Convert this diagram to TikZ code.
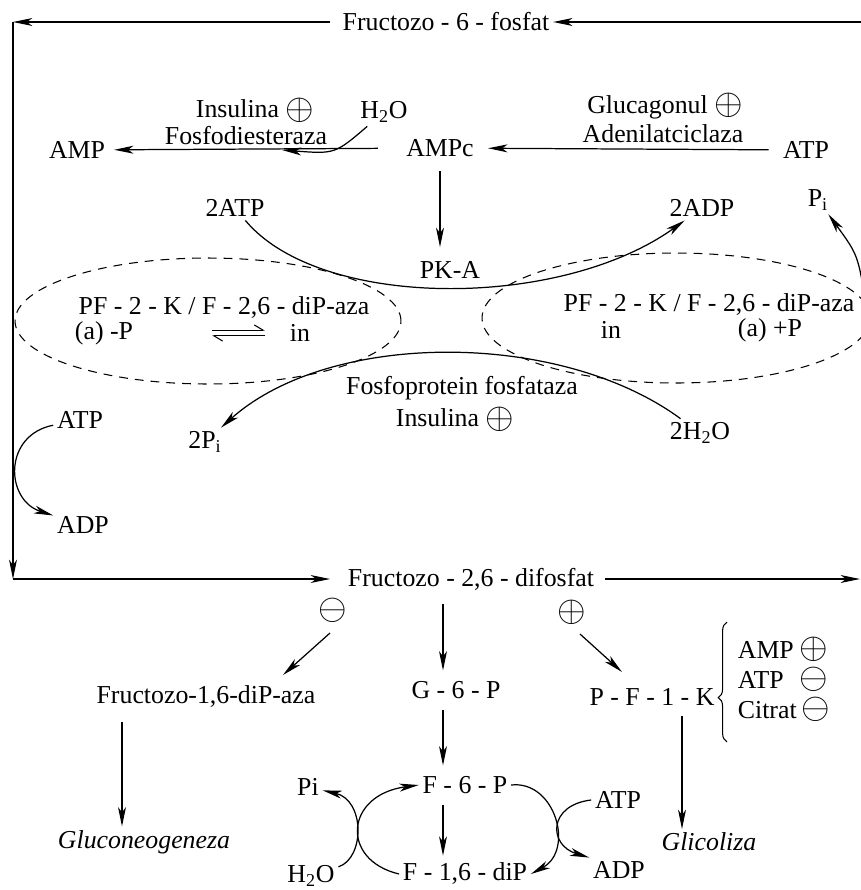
\documentclass[tikz,border=0pt]{standalone}
\usepackage{amsmath,amssymb}
\usepackage{graphicx}
\usepackage{fontspec}
\setmainfont{Liberation Serif}
\usepackage{tikz}
\usetikzlibrary{arrows.meta,shapes.geometric,calc,decorations.pathreplacing}
\newcommand{\chemfont}{\fontsize{14.7pt}{17pt}\selectfont}
\newcommand{\cplus}{\raisebox{-0.15ex}[1.3ex][0.2ex]{\scalebox{1.45}{$\oplus$}}}
\newcommand{\cminus}{\raisebox{-0.15ex}[1.3ex][0.2ex]{\scalebox{1.45}{$\ominus$}}}

\begin{document}
\begin{tikzpicture}[
    x=0.02cm, y=-0.02cm,
    every node/.style={font=\chemfont, inner sep=2pt},
    sgn/.style={inner sep=0pt},
    arr/.style={-{Stealth[length=11pt,width=4.5pt,inset=3pt]}, line width=0.7pt},
    oval/.style={draw, ellipse, dash pattern=on 5pt off 4pt, line width=0.6pt},
    harp/.style={-{Straight Barb[left,length=5pt,width=6pt]}, line width=0.6pt},
    brc/.style={decorate, decoration={brace, amplitude=5pt, aspect=0.37}, line width=0.6pt}
]
\clip (0,0) rectangle (861,890);

% cAMP part
\node (fru6p) at (446,22) {Fructozo - 6 - fosfat};
\node (amp) at (77,150) {AMP};
\node (campc) at (440,148) {AMPc};
\node (atpa) at (806,150) {ATP};
\node (insa) at (255,110) {Insulina \cplus};
\node (pde) at (246,136) {Fosfodiesteraza};
\node (h2oa) at (384,112) {H\textsubscript{2}O};
\node (glc) at (665,107) {Glucagonul \cplus};
\node (adc) at (663,134) {Adenilatciclaza};
\node (atpk) at (235,208) {2ATP};
\node (adpk) at (702,208) {2ADP};
\node (pia) at (818,200) {P\textsubscript{i}};
\node (pka) at (450,270) {PK-A};

% bifunctional enzyme
\node[oval, minimum width=7.72cm, minimum height=2.52cm] (ovl) at (208,321) {};
\node[oval, minimum width=7.76cm, minimum height=2.6cm] (ovr) at (676,318) {};
\node (kinl) at (224,308) {PF - 2 - K / F - 2,6 - diP-aza};
\node (phl) at (104,333) {(a) -P};
\node (inl) at (300,333) {in};
\node (kinr) at (709,305) {PF - 2 - K / F - 2,6 - diP-aza};
\node (inr) at (611,330) {in};
\node (phr) at (770,330) {(a) +P};
\node (ppase) at (462,388) {Fosfoprotein fosfataza};
\node[inner sep=1pt] (insb) at (455,419) {Insulina \cplus};
\node (pi2) at (205,442) {2P\textsubscript{i}};
\node (h2o2) at (700,433) {2H\textsubscript{2}O};
\node (atpl) at (80,420) {ATP};
\node (adpl) at (83,525) {ADP};

% F-2,6-bP part
\node (fru26) at (471,579) {Fructozo - 2,6 - difosfat};
\node[sgn] (inh) at (333,611) {\cminus};
\node[sgn] (act) at (572,613) {\cplus};
\node (fbpase) at (206,697) {Fructozo-1,6-diP-aza};
\node (g6p) at (456,690) {G - 6 - P};
\node (pfk) at (652,697) {P - F - 1 - K};
\node[anchor=west] (mamp) at (734,650) {AMP};
\node[anchor=west] (matp) at (734,680) {ATP};
\node[anchor=west] (mcit) at (734,710) {Citrat};
\node[sgn] (samp) at (814,650) {\cplus};
\node[sgn] (satp) at (814,680) {\cminus};
\node[sgn] (scit) at (816,710) {\cminus};
\node (gng) at (144,842) {\itshape Gluconeogeneza};
\node (gly) at (709,842) {\itshape Glicoliza};
\node (f6p) at (465,785) {F - 6 - P};
\node (f16) at (465,874) {F - 1,6 - diP};
\node (pib) at (308,787) {Pi};
\node (h2ob) at (311,876) {H\textsubscript{2}O};
\node (atpb) at (618,800) {ATP};
\node (adpb) at (619,870) {ADP};

\coordinate (cTL) at (13,22);
\coordinate (cTR) at (864,22);
\coordinate (cBL) at (13,579);
\coordinate (cBR) at (860,579);
\coordinate (hyd) at (282,150);
\coordinate (pisrc) at (866,305);
\coordinate (eqL) at (212,333);
\coordinate (eqR) at (265,333);
\coordinate (colL) at (122,0);
\coordinate (colM) at (443,0);
\coordinate (colR) at (682,0);

\draw[arr] (cTR) -- (fru6p);
\draw[arr, shorten <=5pt] (fru6p) -- (cTL);
\draw[arr] (cTL) -- (cBL);
\draw[arr, shorten >=8pt] (cBL) -- (fru26);
\draw[arr, shorten <=4pt] (fru26) -- (cBR);

\draw[arr, shorten <=14pt, shorten >=3pt] (campc) -- (amp);
\draw[arr, shorten <=6pt, shorten >=6pt] (atpa) -- (campc);
\draw[arr, shorten <=6pt, shorten >=6pt] (campc) -- (pka.north -| campc);
\draw[arr] (h2oa) .. controls (335,154) .. (hyd);
\draw[arr] (atpk) .. controls (320,310) and (560,310) .. (adpk);
\draw[arr] (h2o2) .. controls (560,330) and (330,330) .. (pi2);
\draw[arr] (atpl) .. controls (3,435) and (5,500) .. (adpl);
\draw[arr] (pisrc) .. controls (858,255) .. (pia);
\draw[harp] ([yshift=1.6pt]eqL) -- ([yshift=1.6pt]eqR);
\draw[harp] ([yshift=-1.6pt]eqR) -- ([yshift=-1.6pt]eqL);

\draw[arr, shorten <=6pt, shorten >=4pt] (fru26.south -| colM) -- (g6p.north -| colM);
\draw[arr, shorten <=4pt, shorten >=4pt] (g6p.south -| colM) -- (f6p.north -| colM);
\draw[arr, shorten <=4pt, shorten >=2pt] (f6p.south -| colM) -- (f16.north -| colM);
\draw[arr] ($(inh)+(-3,22)$) -- ($(fbpase)+(77,-22)$);
\draw[arr] ($(act)+(8,21)$) -- ($(pfk)+(-30,-25)$);
\draw[arr, shorten <=6pt] (fbpase.south -| colL) -- (gng.north -| colL);
\draw[arr, shorten <=4pt] (pfk.south -| colR) -- (gly.north -| colR);
\draw[brc] (727,742) -- (727,622);

\draw[arr] (h2ob) .. controls (365,858) and (365,800) .. (pib);
\draw[arr] (f16.west) .. controls (340,860) and (345,795) .. (f6p.west);
\draw[arr] (f6p.east) .. controls (555,780) and (575,850) .. (f16.east);
\draw[arr] (atpb.west) .. controls (548,805) and (548,845) .. (adpb.north west);
\end{tikzpicture}
\end{document}
